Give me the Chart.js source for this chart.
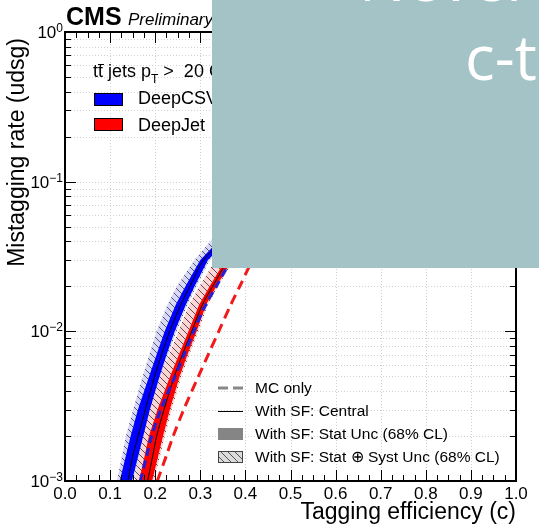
<!DOCTYPE html>
<html>
<head>
<meta charset="utf-8">
<script src="https://cdn.jsdelivr.net/npm/chart.js@4.4.1/dist/chart.umd.min.js"></script>
<style>
  html, body { margin: 0; padding: 0; background: #fff; overflow: hidden; }
  #wrap { position: relative; width: 539px; height: 530px; }
  #overlay { position: absolute; left: 212px; top: 0; width: 327px; height: 268px; background: #a3c3c7; overflow: hidden; }
  .big { position: absolute; color: #fff; font-family: "Open Sans"; font-size: 62px; line-height: 62px; white-space: nowrap; }
</style>
</head>
<body>
<div id="wrap">
  <canvas id="myChart" width="539" height="530"></canvas>
  <div id="overlay">
    <div class="big" style="left:147px;top:-54px">Never</div>
    <div class="big" style="left:253px;top:25px">c-t</div>
  </div>
</div>
<script>
// mistag rate (udsg) points, shared by every curve
const rates = [0.001, 0.0015, 0.002, 0.003, 0.005, 0.007, 0.01, 0.015, 0.02, 0.03, 0.05, 0.1, 0.2, 0.5, 1.0];

// c-tagging efficiency at each rate
const deepcsvMC      = [0.1669, 0.1818, 0.1922, 0.2124, 0.2438, 0.2640, 0.2853, 0.3118, 0.3356, 0.369, 0.42, 0.51, 0.63, 0.84, 1.0];
const deepcsvSF      = [0.1396, 0.1507, 0.1624, 0.1782, 0.1987, 0.2142, 0.2322, 0.2564, 0.2771, 0.3076, 0.38, 0.47, 0.59, 0.81, 1.0];
const deepcsvStatLo  = [0.1215, 0.1355, 0.1456, 0.1618, 0.1864, 0.2031, 0.2211, 0.2453, 0.2671, 0.300, 0.37, 0.46, 0.58, 0.80, 0.995];
const deepcsvStatHi  = [0.1484, 0.1631, 0.1736, 0.1882, 0.2096, 0.2253, 0.2433, 0.2676, 0.2873, 0.3169, 0.39, 0.48, 0.60, 0.82, 1.0];
const deepcsvSystLo  = [0.115, 0.127, 0.135, 0.151, 0.172, 0.187, 0.203, 0.227, 0.248, 0.287, 0.35, 0.44, 0.56, 0.78, 0.99];
const deepcsvSystHi  = [0.1524, 0.1671, 0.1776, 0.1922, 0.2136, 0.2293, 0.2473, 0.2716, 0.2913, 0.3209, 0.395, 0.485, 0.605, 0.825, 1.0];

const deepjetMC      = [0.2047, 0.2256, 0.2400, 0.2633, 0.2958, 0.3176, 0.3409, 0.3673, 0.3876, 0.4169, 0.47, 0.56, 0.68, 0.87, 1.0];
const deepjetSF      = [0.1832, 0.1950, 0.2033, 0.2196, 0.2424, 0.2604, 0.2811, 0.3044, 0.3276, 0.362, 0.42, 0.51, 0.64, 0.845, 1.0];
const deepjetStatLo  = [0.1642, 0.1771, 0.1862, 0.2053, 0.2329, 0.2527, 0.2738, 0.2971, 0.3207, 0.3558, 0.41, 0.50, 0.63, 0.84, 1.0];
const deepjetStatHi  = [0.1932, 0.2073, 0.2173, 0.2325, 0.2540, 0.2716, 0.2918, 0.3124, 0.3356, 0.3704, 0.43, 0.52, 0.65, 0.85, 1.0];
const deepjetSystLo  = [0.1538, 0.1653, 0.1736, 0.1882, 0.2122, 0.2307, 0.2516, 0.2749, 0.2984, 0.3336, 0.39, 0.48, 0.61, 0.82, 0.995];
const deepjetSystHi  = [0.1972, 0.2113, 0.2213, 0.2365, 0.2580, 0.2756, 0.2958, 0.3164, 0.3396, 0.3744, 0.435, 0.525, 0.655, 0.855, 1.0];

const xTicks = [0.0, 0.1, 0.2, 0.3, 0.4, 0.5, 0.6, 0.7, 0.8, 0.9, 1.0];
const yExponents = [0, -1, -2, -3];
const taggerNames = ['DeepCSV', 'DeepJet'];
const styleNames = ['MC only', 'With SF: Central', 'With SF: Stat Unc (68% CL)', 'With SF: Stat \u2295 Syst Unc (68% CL)'];

function points(effs) {
  return effs.map((e, i) => ({ x: e, y: rates[i] }));
}
function band(lo, hi) {
  return points(lo).concat(points(hi).reverse());
}
function hatch(bg, line, size) {
  const c = document.createElement('canvas');
  c.width = size; c.height = size;
  const g = c.getContext('2d');
  g.fillStyle = bg;
  g.fillRect(0, 0, size, size);
  g.strokeStyle = line;
  g.lineWidth = 1;
  g.beginPath();
  g.moveTo(0, 0); g.lineTo(size, size);
  g.moveTo(-1, size - 1); g.lineTo(1, size + 1);
  g.moveTo(size - 1, -1); g.lineTo(size + 1, 1);
  g.stroke();
  return g.createPattern(c, 'repeat');
}

const FONT = '"Liberation Sans", Arial, sans-serif';

const frame = {
  id: 'frame',
  beforeDatasetsDraw(chart) {
    const { ctx, chartArea: a, scales: { x, y } } = chart;
    ctx.save();
    ctx.strokeStyle = '#d0d0d0';
    ctx.lineWidth = 1;
    ctx.setLineDash([1, 2]);
    xTicks.slice(1, -1).forEach(v => {
      const px = Math.round(x.getPixelForValue(v)) + 0.5;
      ctx.beginPath(); ctx.moveTo(px, a.top); ctx.lineTo(px, a.bottom); ctx.stroke();
    });
    for (let k = -3; k < 0; k++) {
      for (let m = 1; m <= 9; m++) {
        if (m === 1 && k === -3) continue;
        const py = Math.round(y.getPixelForValue(m * Math.pow(10, k))) + 0.5;
        ctx.beginPath(); ctx.moveTo(a.left, py); ctx.lineTo(a.right, py); ctx.stroke();
      }
    }
    ctx.restore();
  },
  afterDraw(chart) {
    const { ctx, chartArea: a, scales: { x, y } } = chart;
    ctx.save();
    ctx.strokeStyle = '#000';
    ctx.fillStyle = '#000';
    // ticks
    ctx.lineWidth = 1;
    for (let i = 0; i <= 40; i++) {
      const px = Math.round(x.getPixelForValue(i * 0.025)) + 0.5;
      const len = i % 4 === 0 ? 11 : 6;
      ctx.beginPath();
      ctx.moveTo(px, a.bottom); ctx.lineTo(px, a.bottom - len);
      ctx.moveTo(px, a.top); ctx.lineTo(px, a.top + len);
      ctx.stroke();
    }
    for (let k = -3; k < 0; k++) {
      for (let m = 1; m <= 9; m++) {
        const py = Math.round(y.getPixelForValue(m * Math.pow(10, k))) + 0.5;
        const len = m === 1 ? 11 : 6;
        ctx.beginPath();
        ctx.moveTo(a.left, py); ctx.lineTo(a.left + len, py);
        ctx.moveTo(a.right, py); ctx.lineTo(a.right - len, py);
        ctx.stroke();
      }
    }
    // frame
    ctx.lineWidth = 2;
    ctx.strokeRect(a.left, a.top, a.right - a.left, a.bottom - a.top);

    // x tick labels
    ctx.font = '17px ' + FONT;
    ctx.textAlign = 'center';
    ctx.textBaseline = 'alphabetic';
    xTicks.forEach(v => ctx.fillText(v.toFixed(1), x.getPixelForValue(v), a.bottom + 18));

    // y tick labels 10^n
    yExponents.forEach(k => {
      const py = y.getPixelForValue(Math.pow(10, k));
      const ex = k === 0 ? '0' : '\u2212' + (-k);
      ctx.textAlign = 'right';
      ctx.font = '12px ' + FONT;
      const w = ctx.measureText(ex).width;
      ctx.fillText(ex, 63, py);
      ctx.font = '17px ' + FONT;
      ctx.fillText('10', 63 - w, py + 6);
    });

    // axis titles
    ctx.font = '23px ' + FONT;
    ctx.textAlign = 'right';
    ctx.fillText('Tagging efficiency (c)', 516, 519);
    ctx.save();
    ctx.translate(24, 38);
    ctx.rotate(-Math.PI / 2);
    ctx.fillText('Mistagging rate (udsg)', 0, 0);
    ctx.restore();

    // CMS label
    ctx.textAlign = 'left';
    ctx.font = 'bold 25px ' + FONT;
    ctx.fillText('CMS', 66, 25);
    ctx.font = 'italic 17px ' + FONT;
    ctx.fillText('Preliminary', 128, 25);

    // top-left legend
    ctx.font = '18px ' + FONT;
    let tx = 93;
    const tw = ctx.measureText('t').width;
    ctx.fillText('tt jets p', tx, 77);
    ctx.lineWidth = 1;
    ctx.beginPath(); ctx.moveTo(tx + tw, 64.5); ctx.lineTo(tx + 2 * tw + 1, 64.5); ctx.stroke();
    tx += ctx.measureText('tt jets p').width;
    ctx.font = '12px ' + FONT;
    ctx.fillText('T', tx, 83);
    tx += ctx.measureText('T').width;
    ctx.font = '18px ' + FONT;
    ctx.fillText(' >  20 GeV', tx, 77);

    const boxColors = ['#0000ff', '#ff0000'];
    const boxTops = [93, 118];
    const textBase = [104, 131];
    taggerNames.forEach((n, i) => {
      ctx.fillStyle = boxColors[i];
      ctx.fillRect(94, boxTops[i], 28, 12);
      ctx.strokeStyle = '#000';
      ctx.lineWidth = 1;
      ctx.strokeRect(94.5, boxTops[i] + 0.5, 28, 12);
      ctx.fillStyle = '#000';
      ctx.fillText(n, 138, textBase[i]);
    });

    // bottom-right legend
    const rows = [388, 411, 434, 457];
    ctx.font = '15.5px ' + FONT;
    styleNames.forEach((n, i) => {
      ctx.fillStyle = '#000';
      ctx.fillText(n, 255, rows[i] + 5);
    });
    ctx.strokeStyle = '#888';
    ctx.lineWidth = 3;
    ctx.setLineDash([10, 5]);
    ctx.beginPath(); ctx.moveTo(218, rows[0]); ctx.lineTo(243, rows[0]); ctx.stroke();
    ctx.setLineDash([]);
    ctx.strokeStyle = '#000';
    ctx.lineWidth = 1;
    ctx.beginPath(); ctx.moveTo(218, rows[1] + 0.5); ctx.lineTo(243, rows[1] + 0.5); ctx.stroke();
    ctx.fillStyle = '#858585';
    ctx.fillRect(218, rows[2] - 6, 25, 12);
    ctx.fillStyle = hatch('#dcdcdc', '#555', 7);
    ctx.fillRect(218, rows[3] - 6, 25, 12);
    ctx.strokeStyle = '#444';
    ctx.strokeRect(218.5, rows[3] - 5.5, 24, 11);
    ctx.restore();
  }
};

const common = { type: 'line', pointRadius: 0, pointHoverRadius: 0 };

new Chart('myChart', {
  type: 'line',
  data: {
    datasets: [
      { ...common, label: 'DeepCSV MC', data: points(deepcsvMC), borderColor: '#2020d8', borderWidth: 3, borderDash: [8, 5], fill: false, tension: 0.3, order: 1 },
      { ...common, label: 'DeepJet MC', data: points(deepjetMC), borderColor: '#f21a1a', borderWidth: 3, borderDash: [10, 6], fill: false, tension: 0.3, order: 0 },
      { ...common, label: 'DeepCSV SF', data: points(deepcsvSF), borderColor: '#000', borderWidth: 1, fill: false, tension: 0.3, order: 3 },
      { ...common, label: 'DeepJet SF', data: points(deepjetSF), borderColor: '#000', borderWidth: 1, fill: false, tension: 0.3, order: 2 },
      { ...common, label: 'DeepCSV stat', data: band(deepcsvStatLo, deepcsvStatHi), borderColor: 'transparent', borderWidth: 0, backgroundColor: '#0000ff', fill: 'shape', order: 5 },
      { ...common, label: 'DeepJet stat', data: band(deepjetStatLo, deepjetStatHi), borderColor: 'transparent', borderWidth: 0, backgroundColor: '#ff0000', fill: 'shape', order: 4 },
      { ...common, label: 'DeepCSV syst', data: band(deepcsvSystLo, deepcsvSystHi), borderColor: 'transparent', borderWidth: 0, backgroundColor: hatch('#d8d8f8', '#55556a', 7), fill: 'shape', order: 7 },
      { ...common, label: 'DeepJet syst', data: band(deepjetSystLo, deepjetSystHi), borderColor: 'transparent', borderWidth: 0, backgroundColor: hatch('#fcd6d6', '#5e4a4a', 7), fill: 'shape', order: 6 }
    ]
  },
  options: {
    responsive: false,
    animation: false,
    layout: { padding: { left: 65, right: 23, top: 32, bottom: 49 } },
    plugins: { legend: { display: false }, tooltip: { enabled: false } },
    scales: {
      x: { type: 'linear', min: 0, max: 1, display: false },
      y: { type: 'logarithmic', min: 0.001, max: 1, display: false }
    }
  },
  plugins: [frame]
});
</script>
</body>
</html>
